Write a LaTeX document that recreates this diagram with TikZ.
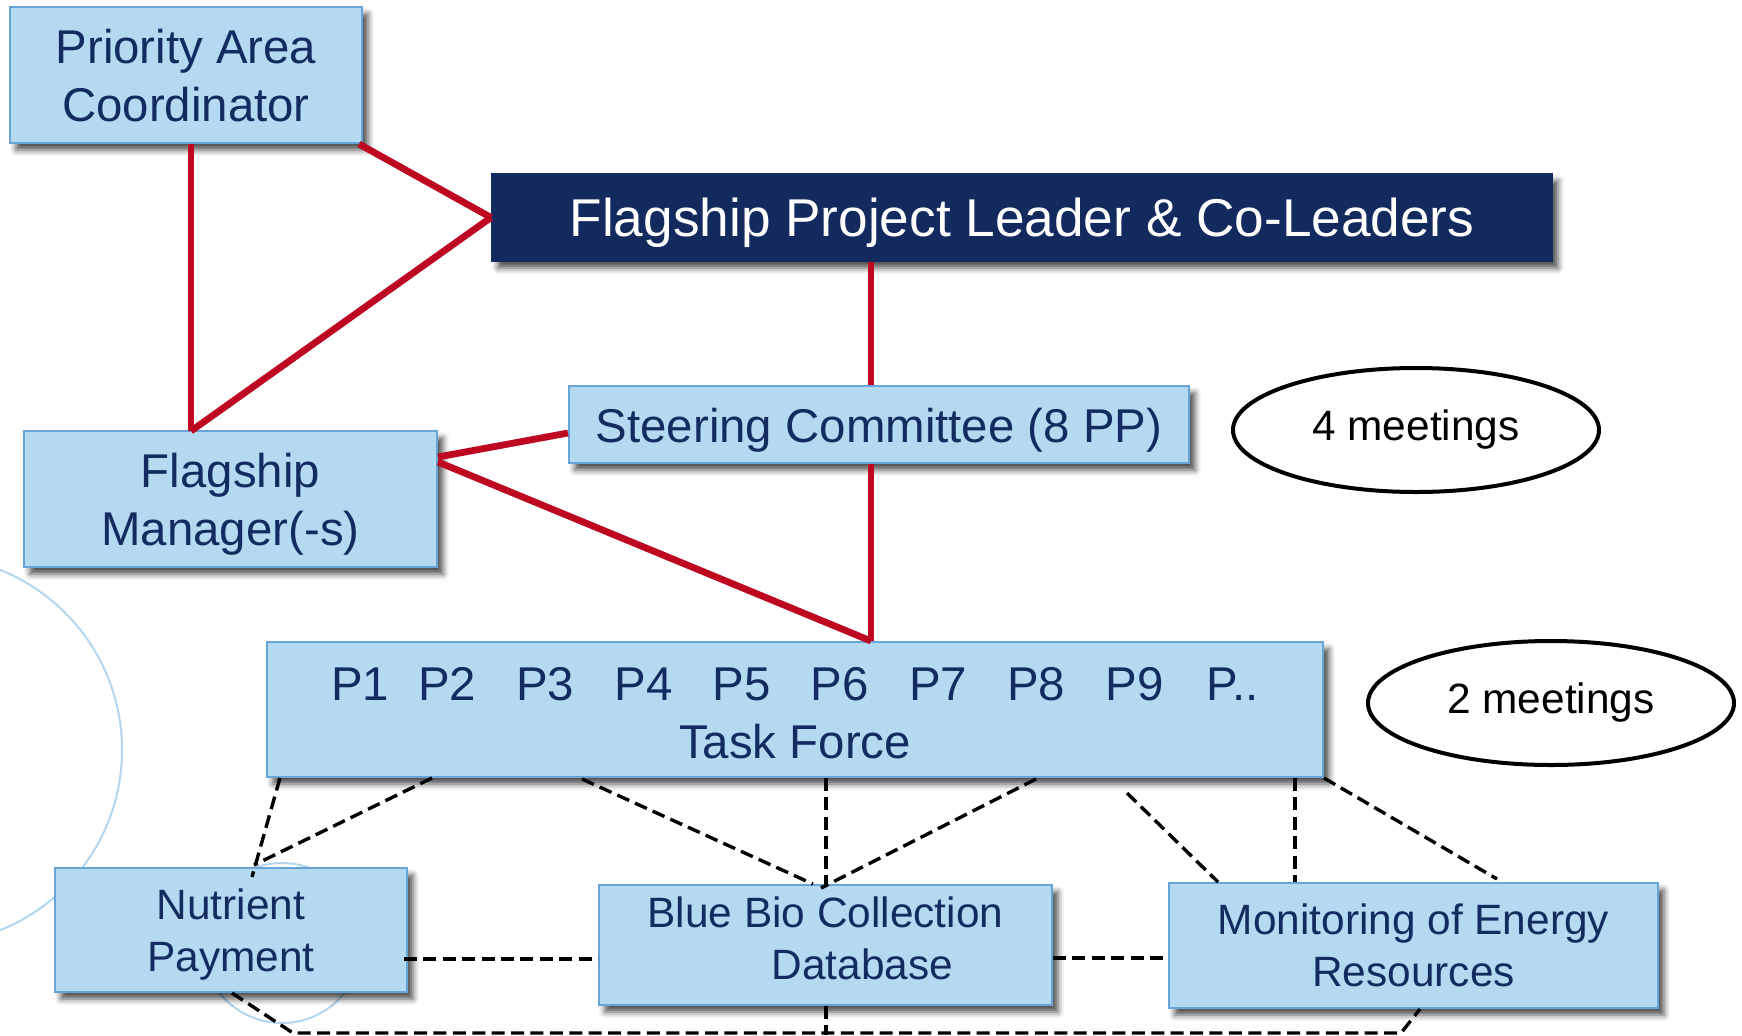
\documentclass[tikz,border=0pt]{standalone}
\usepackage{fontspec}
\setmainfont{Liberation Sans}
\usetikzlibrary{shapes.geometric,calc,shadows.blur}

\definecolor{boxfill}{RGB}{180,218,242}
\definecolor{boxline}{RGB}{104,164,216}
\definecolor{navy}{RGB}{18,44,95}
\definecolor{leadfill}{RGB}{19,42,94}
\definecolor{linkred}{RGB}{190,8,34}
\definecolor{ringblue}{RGB}{178,214,240}

\newcommand\sizeLead{\fontsize{26.6pt}{32pt}\selectfont}
\newcommand\sizeMain{\fontsize{23.7pt}{29pt}\selectfont}
\newcommand\sizeSmall{\fontsize{21.2pt}{25.8pt}\selectfont}
% invisible struts that nudge a node's text up or down
\newcommand\tallstrut[1]{\rule{0pt}{#1}}
\newcommand\deepstrut[1]{\rule[-#1]{0pt}{#1}}

\begin{document}
\begin{tikzpicture}[x=0.5pt,y=-0.5pt,
  box/.style={draw=boxline, line width=1pt, fill=boxfill, text=navy,
    inner sep=0pt, align=center,
    blur shadow={shadow xshift=3pt, shadow yshift=-3.5pt,
      shadow blur radius=3pt, shadow opacity=70}},
  leadbox/.style={box, draw=leadfill, fill=leadfill, text=white},
  meet/.style={ellipse, draw=black, line width=2pt, inner sep=0pt,
    font=\sizeSmall},
  redlink/.style={draw=linkred, line width=3.4pt},
  dashlink/.style={draw=black, line width=1.7pt, dash pattern=on 6.5pt off 3.2pt},
  ring/.style={draw=ringblue, line width=1pt}]
\useasboundingbox (0,0) rectangle (1742,1035);

% background rings
\draw[ring] (-72,750) circle[radius=194];
\draw[ring] (282,943) circle[radius=80];

% organisation boxes
\node[box, minimum width=176pt, minimum height=68pt, font=\sizeMain]
  (pac) at (186,75) {\tallstrut{17.8pt}Priority Area\\Coordinator};
\node[leadbox, minimum width=530pt, minimum height=43.5pt, font=\sizeLead]
  (fpl) at (1022,217.5) {\tallstrut{25pt}Flagship Project Leader \& Co-Leaders};
\node[box, minimum width=310pt, minimum height=38.5pt, font=\sizeMain]
  (sc) at (879,424.5) {\tallstrut{22.9pt}Steering Committee (8 PP)};
\node[box, minimum width=206.5pt, minimum height=68pt, font=\sizeMain]
  (fm) at (230.5,499) {\tallstrut{22.3pt}Flagship\\Manager(-s)};
\node[box, minimum width=528pt, minimum height=67.5pt, font=\sizeMain]
  (tf) at (795,709.5) {\tallstrut{20.6pt}%
  \makebox[37.9pt][c]{P1}\makebox[49.1pt][c]{P2}\makebox[49.1pt][c]{P3}%
  \makebox[49.1pt][c]{P4}\makebox[49.1pt][c]{P5}\makebox[49.1pt][c]{P6}%
  \makebox[49.1pt][c]{P7}\makebox[49.1pt][c]{P8}\makebox[49.1pt][c]{P9}%
  \makebox[49.1pt][c]{P..}\hspace*{-7pt}\\Task Force};
\node[box, minimum width=176pt, minimum height=62pt, font=\sizeSmall]
  (np) at (231,930) {\tallstrut{19.6pt}Nutrient\\Payment};
\node[box, minimum width=226.5pt, minimum height=60pt, font=\sizeSmall]
  (bb) at (825.5,945) {Blue Bio Collection\\\hspace*{37pt}Database\deepstrut{6.6pt}};
\node[box, minimum width=244.5pt, minimum height=62.5pt, font=\sizeSmall]
  (mer) at (1413.5,945.5) {Monitoring of Energy\\Resources};

% meeting notes
\node[meet, minimum width=183pt, minimum height=62pt] (m4) at (1416,430) {4 meetings};
\node[meet, minimum width=183pt, minimum height=62pt] (m2) at (1551,703) {2 meetings};

% helper points
\coordinate (fmtop) at (191,431);
\coordinate (spine) at (871,0);
\coordinate (bbx) at (826,0);
\coordinate (merx) at (1295,0);
\coordinate (hA) at (0,959);
\coordinate (hB) at (0,958);
\coordinate (bbtail) at (826,1035);
\coordinate (lowL) at (293,1033);
\coordinate (lowR) at (1401,1033);

% management links
\draw[redlink] (pac.south -| fmtop) -- (fmtop);
\draw[redlink] ($(pac.south east)+(-4,0)$) -- (fpl.west);
\draw[redlink] (fpl.west) -- (fmtop);
\draw[redlink] (fpl.south -| spine) -- (sc.north -| spine);
\draw[redlink] (sc.south -| spine) -- (tf.north -| spine);
\draw[redlink] ($(sc.west)+(0,8.5)$) -- ($(fm.east)+(0,-42)$);
\draw[redlink] ($(fm.east)+(0,-37)$) -- (tf.north -| spine);

% task force to work packages
\draw[dashlink] ($(tf.south west)+(14,0)$) -- ($(np.north west)+(198,10)$);
\draw[dashlink] ($(tf.south west)+(166,0)$) -- ($(np.north west)+(200,-2)$);
\draw[dashlink] ($(tf.south west)+(316,1)$) -- ($(bb.north west)+(215,0)$);
\draw[dashlink] (tf.south -| bbx) -- (bb.north -| bbx);
\draw[dashlink] ($(tf.south west)+(770,1)$) -- ($(bb.north west)+(223,4)$);
\draw[dashlink] ($(tf.south west)+(861,15)$) -- ($(mer.north west)+(50,0)$);
\draw[dashlink] (tf.south -| merx) -- (mer.north -| merx);
\draw[dashlink] (tf.south east) -- ($(mer.north west)+(329,-3)$);

% links between work packages
\draw[dashlink] ($(np.east |- hA)+(-4,0)$) -- (bb.west |- hA);
\draw[dashlink] (bb.east |- hB) -- (mer.west |- hB);
\draw[dashlink] (bb.south -| bbx) -- (bbtail);
\draw[dashlink] ($(np.south west)+(178,0)$) -- (lowL) -- (lowR)
  -- ($(mer.south west)+(252,0)$);
\end{tikzpicture}
\end{document}
